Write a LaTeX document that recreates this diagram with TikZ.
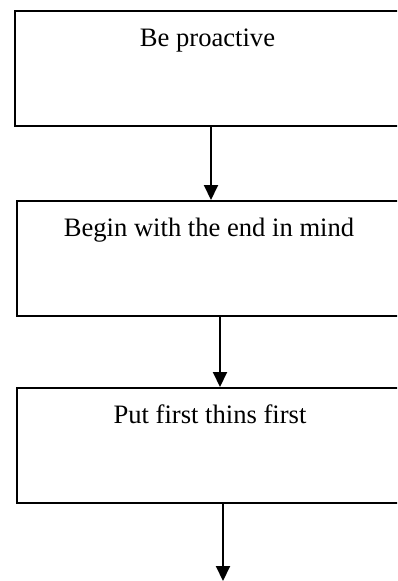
\documentclass[tikz,border=0pt]{standalone}
\usepackage{fontspec}
\setmainfont{Liberation Serif}
\usetikzlibrary{arrows.meta}
\begin{document}
\begin{tikzpicture}[x=1pt,y=-1pt,
  boxnode/.style={draw=black,line width=2pt,rectangle,inner sep=0pt,anchor=north west},
  label/.style={anchor=base,inner sep=0pt,font=\fontsize{26.6}{32}\selectfont},
  arr/.style={line width=2pt,-{Triangle[length=15pt,width=14pt]}}]
\useasboundingbox (0,0) rectangle (397,581);
\clip (0,0) rectangle (397,581);
\node[boxnode,minimum width=400pt,minimum height=115pt] (box1) at (14,10) {};
\node[boxnode,minimum width=400pt,minimum height=115pt] (box2) at (16,200) {};
\node[boxnode,minimum width=400pt,minimum height=115pt] (box3) at (16,387) {};
\node[label] (t1) at (207.5,46.7) {Be proactive};
\node[label] (t2) at (209,236.7) {Begin with the end in mind};
\node[label] (t3) at (210,423.3) {Put first thins first};
\coordinate (a1) at (211,0);
\coordinate (a2) at (220,0);
\coordinate (a3) at (223,0);
\coordinate (end) at (223,581);
\draw[arr] (box1.south -| a1) -- (box2.north -| a1);
\draw[arr] (box2.south -| a2) -- (box3.north -| a2);
\draw[arr] (box3.south -| a3) -- (end);
\end{tikzpicture}
\end{document}
